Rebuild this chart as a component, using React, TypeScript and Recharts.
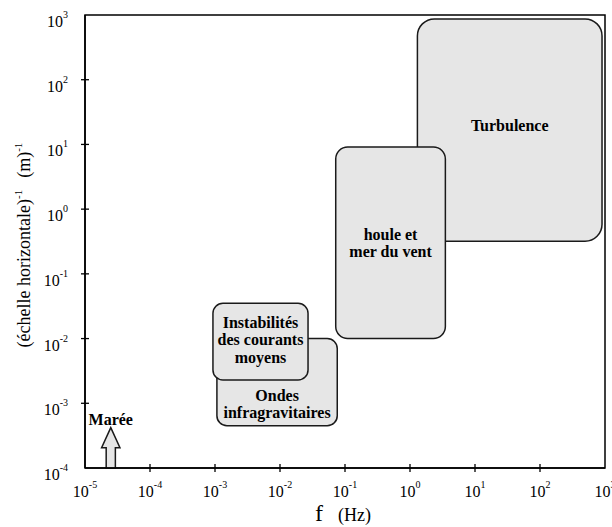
import React from 'react';
import { ComposedChart, XAxis, YAxis, ReferenceArea } from 'recharts';

// Axis ticks (decades)
const freqTicks: number[] = [1e-5, 1e-4, 1e-3, 1e-2, 1e-1, 1e0, 1e1, 1e2, 1e3];
const scaleTicks: number[] = [1e-4, 1e-3, 1e-2, 1e-1, 1e0, 1e1, 1e2, 1e3];

// Regions of the spectrum: frequency range (Hz) and inverse horizontal scale range (1/m)
const regionLabels: string[][] = [
  ['Turbulence'],
  ['houle et', 'mer du vent'],
  ['Ondes', 'infragravitaires'],
  ['Instabilités', 'des courants', 'moyens'],
];
const regionFreqMin: number[] = [1.3, 0.072, 1.07e-3, 9.3e-4];
const regionFreqMax: number[] = [900, 3.5, 0.076, 0.027];
const regionScaleMin: number[] = [0.32, 0.01, 4.5e-4, 2.3e-3];
const regionScaleMax: number[] = [870, 9.1, 0.01, 0.035];

// Tide arrow
const tideLabel = 'Marée';
const tideFreq: number[] = [1.8e-5, 3.45e-5];
const tideScale: number[] = [1e-4, 4.2e-4];

// layout / style
const W = 612;
const H = 527;
const PLOT_LEFT = 85;
const PLOT_BOTTOM = 468;
const FONT = '"Liberation Serif", "Times New Roman", serif';
const FILL = '#e6e6e6';
const STROKE = '#1a1a1a';
const regionRadius = [17, 12, 10, 10];
const regionLabelDy = [-5, 0, 22, -2];

const decade = (v: number) => Math.round(Math.log10(v));

const XTick = (props: any) => {
  const { x, payload } = props;
  const e = decade(payload.value);
  return (
    <g>
      {e > -5 && e < 3 && (
        <line x1={x} x2={x} y1={PLOT_BOTTOM - 4} y2={PLOT_BOTTOM + 4} stroke="#000" strokeWidth={1.3} />
      )}
      <text x={x} y={497} textAnchor="middle" fontFamily={FONT} fontSize={16} fill="#000">
        10<tspan fontSize={10} dy={-9}>{e}</tspan>
      </text>
    </g>
  );
};

const YTick = (props: any) => {
  const { y, payload } = props;
  const e = decade(payload.value);
  return (
    <g>
      {e > -4 && e < 3 && (
        <line x1={PLOT_LEFT - 4} x2={PLOT_LEFT + 4} y1={y} y2={y} stroke="#000" strokeWidth={1.3} />
      )}
      <text x={68} y={y + 12} textAnchor="end" fontFamily={FONT} fontSize={16} fill="#000">
        10<tspan fontSize={10} dy={-9}>{e}</tspan>
      </text>
    </g>
  );
};

const regionShape = (i: number) => (props: any) => {
  const { x, y, width, height } = props;
  const lines = regionLabels[i];
  const lh = 17.5;
  const cy = y + height / 2 + regionLabelDy[i] - ((lines.length - 1) * lh) / 2 + 5.5;
  return (
    <g>
      <rect
        x={x}
        y={y}
        width={width}
        height={height}
        rx={regionRadius[i]}
        ry={regionRadius[i]}
        fill={FILL}
        stroke={STROKE}
        strokeWidth={1.5}
      />
      <text textAnchor="middle" fontFamily={FONT} fontSize={16} fontWeight="bold" fill="#000">
        {lines.map((l, k) => (
          <tspan key={k} x={x + width / 2} y={cy + k * lh}>
            {l}
          </tspan>
        ))}
      </text>
    </g>
  );
};

const tideShape = (props: any) => {
  const { x, y, width, height } = props;
  const cx = x + width / 2;
  const sw = width * 0.25;
  const headH = 20;
  const bottom = y + height;
  const pts = [
    [cx, y],
    [x + width, y + headH],
    [cx + sw, y + headH],
    [cx + sw, bottom],
    [cx - sw, bottom],
    [cx - sw, y + headH],
    [x, y + headH],
  ]
    .map((p) => p.join(','))
    .join(' ');
  return (
    <g>
      <polygon points={pts} fill={FILL} stroke={STROKE} strokeWidth={1.5} strokeLinejoin="miter" />
      <text x={cx} y={y - 3} textAnchor="middle" fontFamily={FONT} fontSize={16} fontWeight="bold" fill="#000">
        {tideLabel}
      </text>
    </g>
  );
};

export default function App() {
  return (
    <div style={{ position: 'absolute', left: 0, top: 0, width: W, height: H, background: '#fff' }}>
      <ComposedChart width={W} height={H} margin={{ top: 15, right: 7, left: 0, bottom: 0 }}>
        <XAxis
          dataKey="f"
          type="number"
          scale="log"
          domain={[1e-5, 1e3]}
          ticks={freqTicks}
          allowDataOverflow
          height={59}
          axisLine={{ stroke: '#000', strokeWidth: 1.5 }}
          tickLine={false}
          tick={<XTick />}
          interval={0}
        />
        <YAxis
          dataKey="k"
          type="number"
          scale="log"
          domain={[1e-4, 1e3]}
          ticks={scaleTicks}
          allowDataOverflow
          width={85}
          axisLine={{ stroke: '#000', strokeWidth: 1.5 }}
          tickLine={false}
          tick={<YTick />}
          interval={0}
        />
        <ReferenceArea
          x1={1e-5}
          x2={1e3}
          y1={1e-4}
          y2={1e3}
          fill="none"
          fillOpacity={0}
          stroke="#000"
          strokeWidth={1.5}
        />
        {regionLabels.map((_, i) => (
          <ReferenceArea
            key={i}
            x1={regionFreqMin[i]}
            x2={regionFreqMax[i]}
            y1={regionScaleMin[i]}
            y2={regionScaleMax[i]}
            shape={regionShape(i)}
          />
        ))}
        <ReferenceArea x1={tideFreq[0]} x2={tideFreq[1]} y1={tideScale[0]} y2={tideScale[1]} shape={tideShape} />
      </ComposedChart>
      <svg width={W} height={H} style={{ position: 'absolute', left: 0, top: 0, pointerEvents: 'none' }}>
        <text
          transform="translate(30,245) rotate(-90)"
          textAnchor="middle"
          fontFamily={FONT}
          fontSize={18}
          fill="#000"
        >
          (échelle horizontale)<tspan fontSize={11} dy={-8}>-1</tspan>
          <tspan dx={12} dy={8}>(m)</tspan>
          <tspan fontSize={11} dy={-8}>-1</tspan>
        </text>
        <text x={315} y={521} fontFamily={FONT} fontSize={24} fill="#000">
          f
        </text>
        <text x={338} y={521} fontFamily={FONT} fontSize={18} fill="#000">
          (Hz)
        </text>
      </svg>
    </div>
  );
}
